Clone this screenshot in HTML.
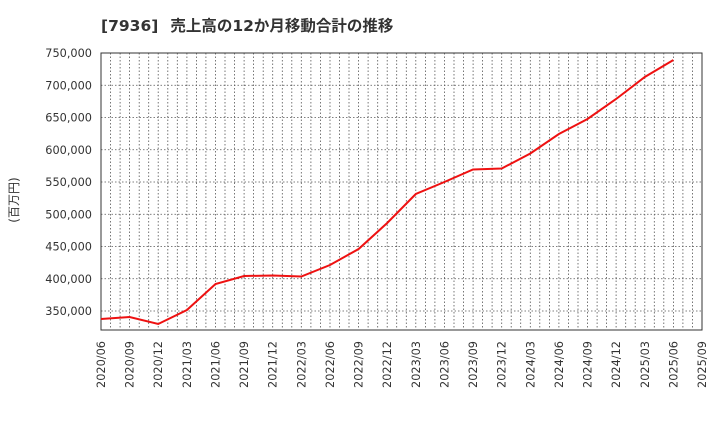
<!DOCTYPE html>
<html><head><meta charset="utf-8"><style>
body{margin:0;background:#fff;}
svg text{font-family:"DejaVu Sans","Noto Sans CJK JP",sans-serif;fill:#333;}
</style></head><body>
<svg width="720" height="440" xmlns="http://www.w3.org/2000/svg">
<text x="101" y="31" font-size="15.5" font-weight="bold">[7936]<tspan dx="12">売上高の12か月移動合計の推移</tspan></text>
<text transform="translate(18,200) rotate(-90)" font-size="12" text-anchor="middle">(百万円)</text>
<g stroke="#555" stroke-width="0.8" stroke-dasharray="1.5,2">
<path d="M101 85.25H702M101 117.5H702M101 149.75H702M101 182H702M101 214.25H702M101 246.5H702M101 278.75H702M101 311H702"/>
<path d="M110.5 53V330M120.1 53V330M129.6 53V330M139.2 53V330M148.7 53V330M158.2 53V330M167.8 53V330M177.3 53V330M186.9 53V330M196.4 53V330M205.9 53V330M215.5 53V330M225 53V330M234.6 53V330M244.1 53V330M253.6 53V330M263.2 53V330M272.7 53V330M282.3 53V330M291.8 53V330M301.3 53V330M310.9 53V330M320.4 53V330M330 53V330M339.5 53V330M349 53V330M358.6 53V330M368.1 53V330M377.7 53V330M387.2 53V330M396.7 53V330M406.3 53V330M415.8 53V330M425.4 53V330M434.9 53V330M444.4 53V330M454 53V330M463.5 53V330M473.1 53V330M482.6 53V330M492.1 53V330M501.7 53V330M511.2 53V330M520.7 53V330M530.3 53V330M539.8 53V330M549.4 53V330M558.9 53V330M568.4 53V330M578 53V330M587.5 53V330M597.1 53V330M606.6 53V330M616.1 53V330M625.7 53V330M635.2 53V330M644.8 53V330M654.3 53V330M663.8 53V330M673.4 53V330M682.9 53V330M692.5 53V330"/>
</g>
<rect x="101" y="53" width="601" height="277" fill="none" stroke="#333" stroke-width="1"/>
<g font-size="11.3" text-anchor="end">
<text x="92" y="57">750,000</text><text x="92" y="89.25">700,000</text><text x="92" y="121.5">650,000</text><text x="92" y="153.75">600,000</text><text x="92" y="186">550,000</text><text x="92" y="218.25">500,000</text><text x="92" y="250.5">450,000</text><text x="92" y="282.75">400,000</text><text x="92" y="315">350,000</text>
</g>
<g font-size="11.3" text-anchor="end">
<text transform="translate(105,341) rotate(-90)">2020/06</text>
<text transform="translate(133.6,341) rotate(-90)">2020/09</text>
<text transform="translate(162.2,341) rotate(-90)">2020/12</text>
<text transform="translate(190.9,341) rotate(-90)">2021/03</text>
<text transform="translate(219.5,341) rotate(-90)">2021/06</text>
<text transform="translate(248.1,341) rotate(-90)">2021/09</text>
<text transform="translate(276.7,341) rotate(-90)">2021/12</text>
<text transform="translate(305.3,341) rotate(-90)">2022/03</text>
<text transform="translate(334,341) rotate(-90)">2022/06</text>
<text transform="translate(362.6,341) rotate(-90)">2022/09</text>
<text transform="translate(391.2,341) rotate(-90)">2022/12</text>
<text transform="translate(419.8,341) rotate(-90)">2023/03</text>
<text transform="translate(448.4,341) rotate(-90)">2023/06</text>
<text transform="translate(477,341) rotate(-90)">2023/09</text>
<text transform="translate(505.7,341) rotate(-90)">2023/12</text>
<text transform="translate(534.3,341) rotate(-90)">2024/03</text>
<text transform="translate(562.9,341) rotate(-90)">2024/06</text>
<text transform="translate(591.5,341) rotate(-90)">2024/09</text>
<text transform="translate(620.1,341) rotate(-90)">2024/12</text>
<text transform="translate(648.8,341) rotate(-90)">2025/03</text>
<text transform="translate(677.4,341) rotate(-90)">2025/06</text>
<text transform="translate(706,341) rotate(-90)">2025/09</text>
</g>
<polyline fill="none" stroke="#ee1111" stroke-width="2" points="101,319 129.6,317 158.2,324 186.9,310 215.5,284 244.1,276 272.7,275.5 301.3,276.5 330,265 358.6,249 387.2,223 415.8,194 444.4,182 473,169.5 501.7,168.5 530.3,153.5 558.9,134 587.5,119 616.1,99 644.8,77 673.4,60"/>
</svg>
</body></html>
